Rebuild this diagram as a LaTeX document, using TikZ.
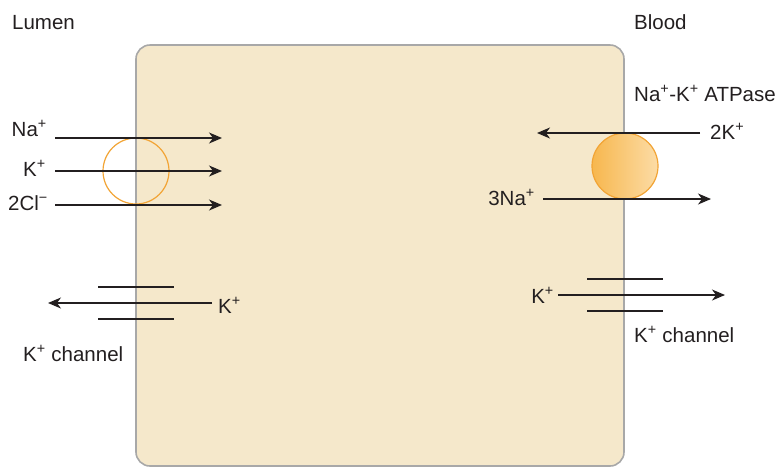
\documentclass[tikz,border=0pt]{standalone}
\usepackage{fontspec}
\setmainfont{Liberation Sans}
\usetikzlibrary{arrows.meta}
\definecolor{txt}{HTML}{231F20}
\definecolor{cellfill}{HTML}{F5E8CB}
\definecolor{cellline}{HTML}{A8A8A8}
\definecolor{orng}{HTML}{F2A435}
\definecolor{pumpL}{HTML}{F7B74E}
\definecolor{pumpR}{HTML}{FCDCA6}
\begin{document}
\begin{tikzpicture}[x=1pt,y=-1pt,
  lbl/.style={inner sep=0pt,text=txt,font=\fontsize{20.5}{24}\selectfont},
  arr/.style={draw=txt,line width=1.3pt,-{Stealth[length=13pt,width=11pt,inset=4pt]}},
  bar/.style={draw=txt,line width=1.3pt},
  cell/.style={draw=cellline,line width=1.6pt,fill=cellfill,rounded corners=14pt},
  cotrans/.style={draw=orng,line width=1.2pt},
  pump/.style={draw=orng,line width=1.2pt,left color=pumpL,right color=pumpR}]
\useasboundingbox (0,0) rectangle (777,467);
% cell
\draw[cell] (136,45) rectangle (624,466);
% headings
\node[lbl,anchor=base west] (lumen) at (12,29) {Lumen};
\node[lbl,anchor=base west] (blood) at (634,29) {Blood};
\node[lbl,anchor=base west] (atpase) at (634,101) {Na\textsuperscript{+}-K\textsuperscript{+} ATPase};
% left cotransporter
\node[cotrans,circle,minimum size=66pt,inner sep=0pt] (cotr) at (136,171) {};
\node[lbl,anchor=base east] (na) at (47,136) {Na\textsuperscript{+}};
\node[lbl,anchor=base east] (kl) at (46,176) {K\textsuperscript{+}};
\node[lbl,anchor=base east] (cl) at (48,210) {2Cl\textsuperscript{−}};
\coordinate (na1) at (55,138); \coordinate (na2) at (222,138);
\coordinate (k1) at (55,171);  \coordinate (k2) at (222,171);
\coordinate (c1) at (55,205);  \coordinate (c2) at (222,205);
\draw[arr] (na1) -- (na2);
\draw[arr] (k1) -- (k2);
\draw[arr] (c1) -- (c2);
% left K channel
\coordinate (lb1) at (98,287); \coordinate (lb2) at (174,287);
\coordinate (lb3) at (98,319); \coordinate (lb4) at (174,319);
\draw[bar] (lb1) -- (lb2);
\draw[bar] (lb3) -- (lb4);
\node[lbl,anchor=base west] (klc) at (218,313) {K\textsuperscript{+}};
\coordinate (lk1) at (212,303); \coordinate (lk2) at (48,303);
\draw[arr] (lk1) -- (lk2);
\node[lbl,anchor=base west] (lchan) at (23,361) {K\textsuperscript{+} channel};
% right pump
\node[pump,circle,minimum size=66pt,inner sep=0pt] (pmp) at (625,166) {};
\node[lbl,anchor=base west] (k2l) at (710,139) {2K\textsuperscript{+}};
\node[lbl,anchor=base east] (na3) at (535,205) {3Na\textsuperscript{+}};
\coordinate (p1) at (700,133); \coordinate (p2) at (537,133);
\coordinate (p3) at (543,199); \coordinate (p4) at (711,199);
\draw[arr] (p1) -- (p2);
\draw[arr] (p3) -- (p4);
% right K channel
\coordinate (rb1) at (587,279); \coordinate (rb2) at (663,279);
\coordinate (rb3) at (587,311); \coordinate (rb4) at (663,311);
\draw[bar] (rb1) -- (rb2);
\draw[bar] (rb3) -- (rb4);
\node[lbl,anchor=base east] (krc) at (554,303) {K\textsuperscript{+}};
\coordinate (rk1) at (558,295); \coordinate (rk2) at (725,295);
\draw[arr] (rk1) -- (rk2);
\node[lbl,anchor=base west] (rchan) at (634,342) {K\textsuperscript{+} channel};
\end{tikzpicture}
\end{document}
